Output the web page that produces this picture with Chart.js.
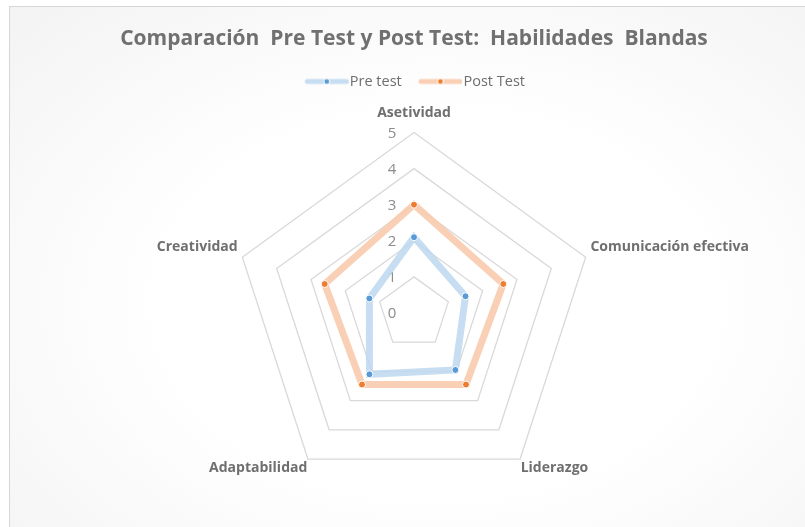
<!DOCTYPE html>
<html>
<head>
<meta charset="utf-8">
<script src="https://cdn.jsdelivr.net/npm/chart.js@4.4.1/dist/chart.umd.min.js"></script>
<style>
  html, body { margin: 0; padding: 0; background: #fff; }
  #wrap { position: relative; width: 805px; height: 527px; overflow: hidden; }
  #frame {
    position: absolute; left: 9px; top: 6px; width: 820px; height: 540px;
    border: 1px solid #d6d6d6;
    background: radial-gradient(ellipse at 52% 55%, #ffffff 45%, #f3f3f3 100%);
  }
  #chart { position: absolute; left: 0; top: 0; }
</style>
</head>
<body>
<div id="wrap">
  <div id="frame"></div>
  <canvas id="chart" width="805" height="527"></canvas>
</div>
<script>
const skills = ["Asetividad", "Comunicación efectiva", "Liderazgo", "Adaptabilidad", "Creatividad"]
const preTest = [2.1, 1.5, 1.95, 2.1, 1.3]
const postTest = [3.0, 2.6, 2.45, 2.45, 2.6]
const tickValues = [0, 1, 2, 3, 4, 5]

const preLine = "rgba(189,215,238,0.85)"
const preDot = "#5b9bd5"
const postLine = "rgba(248,203,173,0.9)"
const postDot = "#ed7d31"

// little "line with a dot" swatch for the legend, like excel
// (some empty room on the left so it sits right next to the text)
function legendSwatch(line, dot) {
    const c = document.createElement("canvas")
    c.width = 52
    c.height = 10
    const g = c.getContext("2d")
    g.strokeStyle = line
    g.lineWidth = 5
    g.lineCap = "round"
    g.beginPath()
    g.moveTo(10.5, 5)
    g.lineTo(49.5, 5)
    g.stroke()
    g.fillStyle = dot
    g.strokeStyle = "#fff"
    g.lineWidth = 1
    g.beginPath()
    g.arc(30, 5, 3, 0, Math.PI * 2)
    g.fill()
    g.stroke()
    return c
}
const swatches = [legendSwatch(preLine, preDot), legendSwatch(postLine, postDot)]

// tick numbers sit left of the top axis, not on it
const tickNumbers = {
    id: "tickNumbers",
    beforeDatasetsDraw(chart) {
        const r = chart.scales.r
        const ctx = chart.ctx
        ctx.save()
        ctx.font = "15px 'Open Sans', sans-serif"
        ctx.fillStyle = "#8c8c8c"
        ctx.textAlign = "center"
        ctx.textBaseline = "middle"
        tickValues.forEach(v => {
            ctx.fillText(String(v), r.xCenter - 22, r.yCenter - r.getDistanceFromCenterForValue(v) + 1)
        })
        ctx.restore()
    }
}

// give a bit of the legend height back to the plot
// (not too much, the legend clips to its own box)
const legendGap = {
    id: "legendGap",
    beforeInit(chart) {
        const fit = chart.legend.fit
        chart.legend.fit = function () {
            fit.bind(chart.legend)()
            this.height -= 7
        }
    }
}

new Chart("chart", {
    type: "radar",
    data: {
        labels: skills,
        datasets: [
            {
                label: "Pre test",
                data: preTest,
                borderColor: preLine,
                borderWidth: 7,
                fill: false,
                pointBackgroundColor: preDot,
                pointBorderColor: "#fff",
                pointBorderWidth: 1,
                pointRadius: 3.5
            },
            {
                label: "Post Test",
                data: postTest,
                borderColor: postLine,
                borderWidth: 7,
                fill: false,
                pointBackgroundColor: postDot,
                pointBorderColor: "#fff",
                pointBorderWidth: 1,
                pointRadius: 3.5
            }
        ]
    },
    options: {
        responsive: false,
        animation: false,
        layout: {
            padding: { left: 23, right: 0, top: 0, bottom: 18 }
        },
        plugins: {
            title: {
                display: true,
                text: "Comparación  Pre Test y Post Test:  Habilidades  Blandas",
                color: "#707070",
                font: { family: "'Open Sans', sans-serif", size: 21, weight: "bold" },
                padding: { top: 26, bottom: 8 }
            },
            legend: {
                display: true,
                labels: {
                    usePointStyle: true,
                    pointStyleWidth: 39.5,
                    color: "#6e6e6e",
                    font: { family: "'Open Sans', sans-serif", size: 14.5 },
                    padding: 15,
                    generateLabels(chart) {
                        return chart.data.datasets.map((ds, i) => ({
                            text: ds.label,
                            pointStyle: swatches[i],
                            fontColor: "#6e6e6e",
                            datasetIndex: i,
                            hidden: false,
                            lineWidth: 0
                        }))
                    }
                }
            },
            tooltip: { enabled: false }
        },
        scales: {
            r: {
                min: 0,
                max: 5,
                ticks: { display: false, stepSize: 1 },
                angleLines: { display: false },
                grid: { color: "#d9d9d9", lineWidth: 1.3 },
                pointLabels: {
                    color: "#6f6f6f",
                    font: { family: "'Open Sans', sans-serif", size: 14, weight: "bold" },
                    padding: ctx => [11, 5, 1, 1, 5][ctx.index]
                }
            }
        }
    },
    plugins: [tickNumbers, legendGap]
})
</script>
</body>
</html>
